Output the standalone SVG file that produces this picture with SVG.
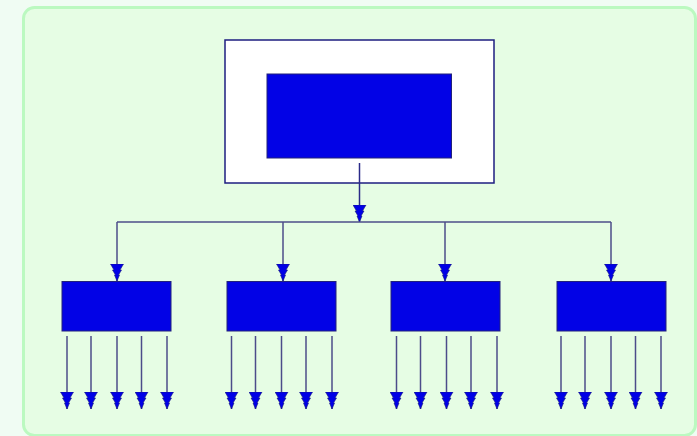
<svg xmlns="http://www.w3.org/2000/svg" width="697" height="436" viewBox="0 0 697 436">
<style>
.conn{stroke:#4c4c8a;stroke-width:1.5;fill:none}
.blk{fill:#0202e6;stroke:#22227a;stroke-width:1}
</style>
<defs>
<marker id="ah" markerUnits="userSpaceOnUse" viewBox="0 -7 18 14" refX="17" refY="0" markerWidth="18" markerHeight="14" orient="auto">
<path d="M0,-6.5 L0,6.5 L6,3 L6,4.5 L11,1.5 L11,2.5 L17,0 L11,-2.5 L11,-1.5 L6,-4.5 L6,-3 Z" fill="#0000e6" stroke="#1a1a80" stroke-width="0.6"/>
</marker>
</defs>
<rect x="0" y="0" width="697" height="436" fill="#f0fcf3"/>
<rect x="23.5" y="7.5" width="672" height="428" rx="11" fill="#e6fde4" stroke="#bbf9c0" stroke-width="3"/>
<g id="root">
<rect x="225" y="40" width="269" height="143" fill="#ffffff" stroke="#1e1e80" stroke-width="1.5"/>
<rect class="blk" x="267" y="74" width="184.5" height="84"/>
</g>
<g id="child1"><rect class="blk" x="62" y="281.5" width="109" height="49.5"/></g>
<g id="child2"><rect class="blk" x="227" y="281.5" width="109" height="49.5"/></g>
<g id="child3"><rect class="blk" x="391" y="281.5" width="109" height="49.5"/></g>
<g id="child4"><rect class="blk" x="557" y="281.5" width="109" height="49.5"/></g>
<g id="connectors" class="conn">
<line x1="359.5" y1="163" x2="359.5" y2="222" marker-end="url(#ah)" stroke="#2a2a88"/>
<line x1="117" y1="222" x2="611" y2="222"/>
<line x1="117" y1="222" x2="117" y2="281" marker-end="url(#ah)"/>
<line x1="283" y1="222" x2="283" y2="281" marker-end="url(#ah)"/>
<line x1="445" y1="222" x2="445" y2="281" marker-end="url(#ah)"/>
<line x1="611" y1="222" x2="611" y2="281" marker-end="url(#ah)"/>
<line x1="67" y1="336" x2="67" y2="409" marker-end="url(#ah)"/>
<line x1="91" y1="336" x2="91" y2="409" marker-end="url(#ah)"/>
<line x1="117" y1="336" x2="117" y2="409" marker-end="url(#ah)"/>
<line x1="141.5" y1="336" x2="141.5" y2="409" marker-end="url(#ah)"/>
<line x1="167" y1="336" x2="167" y2="409" marker-end="url(#ah)"/>
<line x1="231.5" y1="336" x2="231.5" y2="409" marker-end="url(#ah)"/>
<line x1="255.5" y1="336" x2="255.5" y2="409" marker-end="url(#ah)"/>
<line x1="281.5" y1="336" x2="281.5" y2="409" marker-end="url(#ah)"/>
<line x1="306" y1="336" x2="306" y2="409" marker-end="url(#ah)"/>
<line x1="332" y1="336" x2="332" y2="409" marker-end="url(#ah)"/>
<line x1="396.5" y1="336" x2="396.5" y2="409" marker-end="url(#ah)"/>
<line x1="420.5" y1="336" x2="420.5" y2="409" marker-end="url(#ah)"/>
<line x1="446.5" y1="336" x2="446.5" y2="409" marker-end="url(#ah)"/>
<line x1="471" y1="336" x2="471" y2="409" marker-end="url(#ah)"/>
<line x1="497" y1="336" x2="497" y2="409" marker-end="url(#ah)"/>
<line x1="561" y1="336" x2="561" y2="409" marker-end="url(#ah)"/>
<line x1="585" y1="336" x2="585" y2="409" marker-end="url(#ah)"/>
<line x1="611" y1="336" x2="611" y2="409" marker-end="url(#ah)"/>
<line x1="635.5" y1="336" x2="635.5" y2="409" marker-end="url(#ah)"/>
<line x1="661" y1="336" x2="661" y2="409" marker-end="url(#ah)"/>
</g>
</svg>
